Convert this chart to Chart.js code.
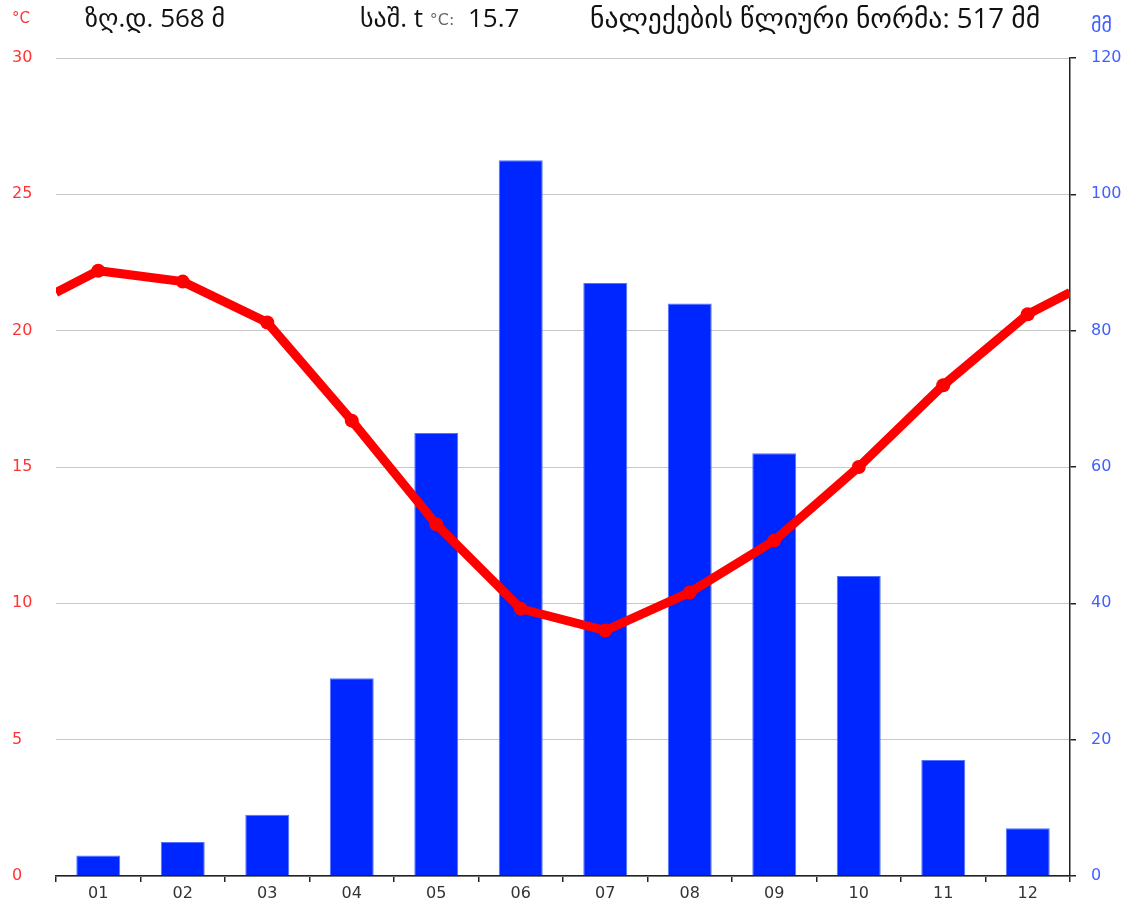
<!DOCTYPE html>
<html>
<head>
<meta charset="utf-8">
<script src="https://cdn.jsdelivr.net/npm/chart.js@4/dist/chart.umd.min.js"></script>
<style>
  html, body { margin: 0; padding: 0; background: #fff; }
  #wrap { width: 1126px; height: 906px; position: relative; }
</style>
</head>
<body>
<div id="wrap"><canvas id="c" width="1126" height="906"></canvas></div>
<script>
// ---- data ----
const months = ['01','02','03','04','05','06','07','08','09','10','11','12'];
const precipitation = [3, 5, 9, 29, 65, 105, 87, 84, 62, 44, 17, 7];      // mm
const temperature = [22.2, 21.8, 20.3, 16.7, 12.9, 9.8, 9.0, 10.4, 12.3, 15.0, 18.0, 20.6]; // °C
const tempEdges = [21.4, 21.4];   // line value at left / right edge of the plot
const tempTicks = [0, 5, 10, 15, 20, 25, 30];
const precTicks = [0, 20, 40, 60, 80, 100, 120];
const headerElevation = 'ზღ.დ. 568 მ';
const headerMeanLabel = 'საშ. t ';
const headerMeanUnit = '°C:';
const headerMeanValue = '  15.7';
const headerPrecip = 'ნალექების წლიური ნორმა: 517 მმ';

// line points on a linear month scale (1..12), plus edge points
const linePoints = [{x: 0.5, y: tempEdges[0]}]
  .concat(temperature.map((t, i) => ({x: i + 1, y: t})))
  .concat([{x: 12.5, y: tempEdges[1]}]);
const pointRadii = linePoints.map((p, i) => (i === 0 || i === linePoints.length - 1) ? 0 : 7);

const FONT = '"DejaVu Sans", sans-serif';
const HFONT = '"Open Sans", "DejaVu Sans", sans-serif';

const headerPlugin = {
  id: 'header',
  afterDraw(chart) {
    const ctx = chart.ctx;
    ctx.save();
    ctx.textBaseline = 'middle';
    ctx.textAlign = 'left';
    // unit labels
    ctx.fillStyle = '#ff3333';
    ctx.font = '15px ' + FONT;
    ctx.fillText('°C', 12, 19);
    ctx.fillStyle = '#4060ff';
    ctx.font = '20px ' + FONT;
    ctx.fillText('მმ', 1091, 27);
    // header texts
    ctx.fillStyle = '#111';
    ctx.font = '26px ' + HFONT;
    ctx.fillText(headerElevation, 85, 20);
    let x = 360;
    ctx.fillText(headerMeanLabel, x, 20);
    x += ctx.measureText(headerMeanLabel).width;
    ctx.font = '16px ' + FONT;
    ctx.fillStyle = '#666';
    ctx.fillText(headerMeanUnit, x, 21);
    x += ctx.measureText(headerMeanUnit).width;
    ctx.font = '26px ' + HFONT;
    ctx.fillStyle = '#111';
    ctx.fillText(headerMeanValue, x, 20);
    ctx.font = '27.6px ' + HFONT;
    ctx.fillText(headerPrecip, 590, 20);
    ctx.restore();
  }
};

new Chart(document.getElementById('c'), {
  type: 'bar',
  data: {
    labels: months,
    datasets: [
      {
        type: 'line',
        data: linePoints,
        xAxisID: 'x2',
        yAxisID: 'y',
        borderColor: '#ff0000',
        backgroundColor: '#ff0000',
        borderWidth: 9,
        pointRadius: pointRadii,
        pointHoverRadius: pointRadii,
        pointBorderWidth: 0,
        tension: 0,
        fill: false,
        order: 0
      },
      {
        type: 'bar',
        data: precipitation,
        xAxisID: 'x',
        yAxisID: 'y1',
        backgroundColor: '#0026ff',
        borderColor: '#5573ff',
        borderWidth: 1,
        borderSkipped: 'bottom',
        grouped: false,
        categoryPercentage: 1.0,
        barPercentage: 0.52,
        order: 1
      }
    ]
  },
  options: {
    responsive: false,
    animation: false,
    events: [],
    layout: { padding: { top: 58, left: 12, right: 0, bottom: 0 } },
    plugins: { legend: { display: false }, tooltip: { enabled: false } },
    scales: {
      x: {
        type: 'category',
        position: 'bottom',
        offset: true,
        grid: { display: true, drawOnChartArea: false, drawTicks: true, tickLength: 6, offset: true, color: '#222', lineWidth: 1.5 },
        border: { display: true, color: '#222', width: 1.5 },
        ticks: { color: '#333', font: { family: FONT, size: 16 }, padding: 2, maxRotation: 0 },
        afterFit(s) { s.height = 30; }
      },
      x2: {
        type: 'linear',
        display: false,
        offset: false,
        grid: { offset: false },
        min: 0.5,
        max: 12.5
      },
      y: {
        type: 'linear',
        position: 'left',
        min: 0,
        max: 30,
        afterBuildTicks(s) { s.ticks = tempTicks.map(v => ({value: v})); },
        grid: { color: '#c8c8c8', lineWidth: 1, drawTicks: false },
        border: { display: false },
        ticks: { color: '#ff3333', font: { family: FONT, size: 16 }, crossAlign: 'far', padding: 0 },
        afterFit(s) { s.width = 44; }
      },
      y1: {
        type: 'linear',
        position: 'right',
        min: 0,
        max: 120,
        afterBuildTicks(s) { s.ticks = precTicks.map(v => ({value: v})); },
        grid: { drawOnChartArea: false, drawTicks: true, tickLength: 6, color: '#222', lineWidth: 1.5 },
        border: { display: true, color: '#222', width: 1.5 },
        ticks: { color: '#4060ff', font: { family: FONT, size: 16 }, padding: 15, crossAlign: 'near' },
        afterFit(s) { s.width = 56; }
      }
    }
  },
  plugins: [headerPlugin]
});
</script>
</body>
</html>
